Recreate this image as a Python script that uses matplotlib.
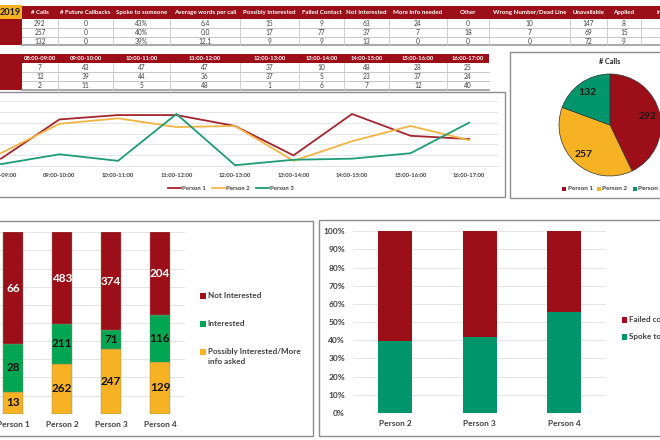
import matplotlib
matplotlib.use("Agg")
import matplotlib.pyplot as plt
from matplotlib.patches import Rectangle

plt.rcParams['font.family'] = ['Lato', 'DejaVu Sans']

RED = '#9C0F18'; GOLD = '#F7B224'; TEAL = '#00956B'; GREEN = '#00A651'
LINE_RED = '#A5252E'; LINE_GOLD = '#F2B544'; LINE_TEAL = '#1E9C76'
GRID = '#E6E6E6'; BORDER = '#8C8C8C'; TEXT = '#404040'

# top table
summary_headers = ['# Calls', '# Future Callbacks', 'Spoke to someone', 'Average words per call',
                   'Possibly Interested', 'Failed Contact', 'Not Interested', 'More info needed',
                   'Other', 'Wrong Number/Dead Line', 'Unavailable', 'Applied', 'Interested']
summary_row1 = ['292', '0', '43%', '6.4', '15', '9', '63', '24', '0', '10', '147', '8', '1']
summary_row2 = ['257', '0', '40%', '0.0', '17', '77', '37', '7', '18', '7', '69', '15', '1']
summary_row3 = ['132', '0', '39%', '12.1', '9', '9', '13', '0', '0', '0', '72', '9', '2']
summary_edges = [22, 58, 113, 170, 240, 299, 344, 389, 447, 489, 570, 607, 641, 700]

# hourly table and line chart
hours = ['08:00-09:00', '09:00-10:00', '10:00-11:00', '11:00-12:00', '12:00-13:00',
         '13:00-14:00', '14:00-15:00', '15:00-16:00', '16:00-17:00']
person1_hourly = [7, 43, 47, 47, 37, 10, 48, 28, 25]
person2_hourly = [12, 39, 44, 36, 37, 5, 23, 37, 24]
person3_hourly = [2, 11, 5, 48, 1, 6, 7, 12, 40]
hourly_edges = [22, 58, 113, 170, 240, 299, 344, 389, 447, 489]

# pie
pie_labels = ['Person 1', 'Person 2', 'Person 3']
pie_values = [292, 257, 132]

# stacked bars, interest
interest_people = ['Person 1', 'Person 2', 'Person 3', 'Person 4']
possibly_interested = [13, 262, 247, 129]
interested = [28, 211, 71, 116]
not_interested = [66, 483, 374, 204]

# stacked bars, contact
contact_people = ['Person 2', 'Person 3', 'Person 4']
spoke_pct = [39.5, 42, 55.5]
failed_pct = [60.5, 58, 44.5]

W, H = 660, 440
fig = plt.figure(figsize=(6.6, 4.4), dpi=100, facecolor='white')


def axpx(x0, y0, x1, y1, **kw):
    return fig.add_axes([x0 / W, 1 - y1 / H, (x1 - x0) / W, (y1 - y0) / H], **kw)


ov = axpx(0, 0, W, H, zorder=0)
ov.set_xlim(0, W); ov.set_ylim(H, 0); ov.axis('off')


def box(x0, y0, x1, y1, color=BORDER, lw=1.0):
    ov.add_patch(Rectangle((x0, y0), x1 - x0, y1 - y0, fc='white', ec=color, lw=lw))


def table(top, header_h, row_h, edges, headers, rows, hsize):
    right = edges[-1]
    ov.add_patch(Rectangle((0, top), right, header_h, fc=RED, ec='none'))
    ov.add_patch(Rectangle((0, top + header_h), edges[0], row_h * len(rows), fc=RED, ec='none'))
    for i, h in enumerate(headers):
        ov.text((edges[i] + edges[i + 1]) / 2, top + header_h / 2, h, color='white', fontsize=hsize,
                fontweight='bold', ha='center', va='center')
    for r, row in enumerate(rows):
        y = top + header_h + row_h * r
        for i, v in enumerate(row):
            ov.text((edges[i] + edges[i + 1]) / 2, y + row_h / 2, v, color=TEXT, fontsize=4.8,
                    ha='center', va='center')
        ov.plot([edges[0], right], [y + row_h] * 2, color='#BDBDBD' if r < len(rows) - 1 else '#9A9A9A',
                lw=0.6 if r < len(rows) - 1 else 1.2)
    for e in edges[1:-1]:
        ov.plot([e, e], [top + header_h, top + header_h + row_h * len(rows)], color='#C8C8C8', lw=0.6)


table(6, 13, 8.8, summary_edges, summary_headers, [summary_row1, summary_row2, summary_row3], 4.45)
ov.add_patch(Rectangle((0, 5.5), 22, 13.5, fc=GOLD, ec='none'))
ov.text(20.5, 12.5, '2019', color='#1a1a1a', fontsize=6.6, fontweight='bold', ha='right', va='center')
table(54, 9, 8.9, hourly_edges, hours,
      [[str(v) for v in person1_hourly], [str(v) for v in person2_hourly], [str(v) for v in person3_hourly]], 4.2)

# boxes
box(-5, 92, 505, 197.5)
box(510, 52, 670, 198)
box(-5, 221, 313, 436)
box(318.5, 220.5, 670, 436)

# line chart
ax = axpx(-28.3, 90.0, 498.3, 166.3, zorder=1)
ax.patch.set_alpha(0)
xs = list(range(len(hours)))
for vals, c, lab in [(person1_hourly, LINE_RED, 'Person 1'), (person2_hourly, LINE_GOLD, 'Person 2'),
                     (person3_hourly, LINE_TEAL, 'Person 3')]:
    ax.plot(xs, vals, color=c, lw=1.3, label=lab, solid_joinstyle='miter')
ax.set_xlim(-0.5, 8.5); ax.set_ylim(0, 70)
ax.set_yticks(range(0, 70, 10)); ax.set_yticklabels([])
ax.set_xticks(xs); ax.set_xticklabels(hours, fontsize=4.2, fontweight='bold', color=TEXT)
ax.tick_params(length=0, pad=5)
ax.grid(axis='y', color=GRID, lw=0.7)
ax.set_axisbelow(True)
for s in ax.spines.values():
    s.set_visible(False)
ax.spines['bottom'].set_visible(True); ax.spines['bottom'].set_color(GRID); ax.spines['bottom'].set_linewidth(0.7)
ov2 = axpx(0, 0, W, H, zorder=5)
ov2.set_xlim(0, W); ov2.set_ylim(H, 0); ov2.axis('off'); ov2.patch.set_alpha(0)
for x, c, lab in [(168, LINE_RED, 'Person 1'), (212, LINE_GOLD, 'Person 2'), (256, LINE_TEAL, 'Person 3')]:
    ov2.plot([x, x + 13], [188, 188], color=c, lw=1.3)
    ov2.text(x + 14, 188, lab, fontsize=4.3, fontweight='bold', color=TEXT, va='center')

# pie
pax = axpx(559, 74, 661, 176, zorder=2)
pie_colors = [RED, GOLD, TEAL]
wedges, _ = pax.pie(pie_values, colors=pie_colors, startangle=90, counterclock=False, radius=1.0,
                    wedgeprops=dict(edgecolor='#333333', linewidth=0.5))
pax.set_xlim(-1, 1); pax.set_ylim(-1, 1)
pax.set_clip_on(False)
for w in wedges:
    w.set_clip_on(False)
for v, (lx, ly) in zip(pie_values, [(0.74, 0.16), (-0.52, -0.58), (-0.44, 0.63)]):
    pax.text(lx, ly, str(v), ha='center', va='center', fontsize=7.5, fontweight='bold', color='#1a1a1a')
ov2.text(610, 62, '# Calls', ha='center', va='center', fontsize=5.2, fontweight='bold', color='#222222')
for x, c, lab in [(562, RED, 'Person 1'), (597, GOLD, 'Person 2'), (633, TEAL, 'Person 3')]:
    ov2.add_patch(Rectangle((x, 187), 4, 4, fc=c, ec='none'))
    ov2.text(x + 5.5, 189, lab, fontsize=4.6, fontweight='bold', color=TEXT, va='center')

# interest bars
bax = axpx(-11.5, 232.3, 184.5, 413.7, zorder=2)
bax.patch.set_alpha(0)
n = len(interest_people)
totals = [a + b + c for a, b, c in zip(possibly_interested, interested, not_interested)]
bottom = [0.0] * n
for vals, col, tc in [(possibly_interested, GOLD, '#111111'), (interested, GREEN, '#111111'),
                      (not_interested, RED, 'white')]:
    pct = [v / t * 100 for v, t in zip(vals, totals)]
    bars = bax.bar(range(n), pct, 0.41, bottom=bottom, color=col, edgecolor='#8a8a6a', linewidth=0.3)
    for i, p in enumerate(pct):
        bax.text(i, bottom[i] + p / 2, str(vals[i]), ha='center', va='center', fontsize=8.5, fontweight='bold',
                 color=tc, clip_on=False)
    bottom = [b + p for b, p in zip(bottom, pct)]
bax.set_xlim(-0.5, n - 0.5); bax.set_ylim(0, 100)
bax.set_yticks(range(0, 101, 10)); bax.set_yticklabels([])
bax.set_xticks(range(n)); bax.set_xticklabels(interest_people, fontsize=6, fontweight='bold', color=TEXT)
bax.tick_params(length=0, pad=5)
bax.grid(axis='y', color=GRID, lw=0.7); bax.set_axisbelow(True)
for s in bax.spines.values():
    s.set_visible(False)
for y, c, lab in [(296, RED, 'Not Interested'), (324, GREEN, 'Interested'),
                  (352, GOLD, 'Possibly Interested/More\ninfo asked')]:
    ov2.add_patch(Rectangle((200, y - 2.8), 5.5, 5.5, fc=c, ec='none'))
    ov2.text(207.5, y - 3.6, lab, fontsize=5.9, fontweight='bold', color=TEXT, va='top', linespacing=1.35)

# contact bars
cax = axpx(353.3, 231.3, 606, 413, zorder=2)
cax.patch.set_alpha(0)
m = len(contact_people)
cax.bar(range(m), spoke_pct, 0.404, color=TEAL)
cax.bar(range(m), failed_pct, 0.404, bottom=spoke_pct, color=RED)
cax.set_xlim(-0.5, m - 0.5); cax.set_ylim(0, 100)
cax.set_yticks(range(0, 101, 10)); cax.set_yticklabels([f'{v}%' for v in range(0, 101, 10)],
                                                       fontsize=6, fontweight='bold', color=TEXT)
cax.set_xticks(range(m)); cax.set_xticklabels(contact_people, fontsize=6, fontweight='bold', color=TEXT)
cax.tick_params(length=0, pad=6)
cax.tick_params(axis='x', pad=5)
cax.grid(axis='y', color=GRID, lw=0.7); cax.set_axisbelow(True)
for s in cax.spines.values():
    s.set_visible(False)
for y, c, lab in [(320, RED, 'Failed contact'), (337, TEAL, 'Spoke to someone')]:
    ov2.add_patch(Rectangle((621.5, y - 2.8), 5.5, 5.5, fc=c, ec='none'))
    ov2.text(629, y, lab, fontsize=5.9, fontweight='bold', color=TEXT, va='center')

fig.savefig('out.png', dpi=100, facecolor='white')
